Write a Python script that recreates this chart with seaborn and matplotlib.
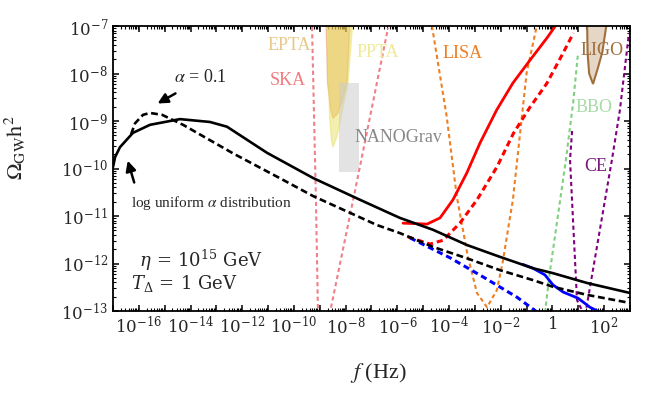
import numpy as np
import matplotlib
matplotlib.use("Agg")
import matplotlib.pyplot as plt
import seaborn as sns

# everything stored as log10 values
# black curves
solid_f = [-17.0, -16.92, -16.73, -16.23, -15.57, -14.41, -13.25, -12.59, -11.04, -9.26,
           -7.44, -5.90, -4.62, -3.31, -2.03, -0.75, 0.0, 1.34, 3.0]
solid_o = [-9.97, -9.76, -9.55, -9.25, -9.08, -8.96, -9.02, -9.12, -9.67, -10.2,
           -10.66, -11.04, -11.29, -11.61, -11.86, -12.1, -12.2, -12.41, -12.62]
dash_f = [-16.3, -16.15, -15.84, -15.57, -15.1, -14.29, -12.36, -10.42, -9.26, -6.79,
          -5.9, -4.62, -3.31, -2.03, -0.75, 0.02, 1.34, 3.0]
dash_o = [-9.28, -9.05, -8.87, -8.83, -8.87, -9.08, -9.68, -10.24, -10.58, -11.19,
          -11.36, -11.65, -11.89, -12.14, -12.35, -12.49, -12.66, -12.83]

# red / blue curves
red_f = [-5.78, -4.85, -4.35, -3.85, -3.31, -2.80, -2.16, -1.53, -0.87, -0.21, 0.1]
red_o = [-11.15, -11.17, -11.04, -10.66, -10.09, -9.46, -8.77, -8.2, -7.72, -7.25, -7.01]
redd_f = [-5.59, -4.74, -4.23, -3.58, -2.92, -2.15, -1.51, -0.87, -0.22, 0.41, 0.81]
redd_o = [-11.44, -11.59, -11.51, -11.15, -10.66, -9.97, -9.26, -8.71, -8.21, -7.57, -7.15]
blued_f = [-5.51, -3.96, -2.69, -1.37, -0.60]
blued_o = [-11.46, -11.88, -12.28, -12.71, -13.02]
blue_f = [-1.14, -0.75, -0.29, 0.02, 0.41, 0.99, 1.45, 1.96]
blue_o = [-12.02, -12.1, -12.24, -12.45, -12.6, -12.73, -12.92, -13.06]

# detector sensitivity curves
ska_f = [-9.30, -9.15, -9.07, -8.85, -8.61, -7.63, -6.36]
ska_o = [-7.02, -10.66, -13.04, -13.8, -13.04, -10.45, -7.04]
lisa_f = [-4.66, -4.09, -3.70, -3.27, -2.92, -2.53, -2.15, -1.91, -1.64, -1.53, -1.0, -0.61]
lisa_o = [-7.0, -8.91, -10.59, -11.86, -12.62, -12.92, -12.56, -11.93, -11.02, -10.66, -7.99, -7.01]
bbo_f = [-0.29, -0.09, 0.52, 0.80, 0.99]
bbo_o = [-13.04, -12.14, -9.82, -8.62, -7.57]
ce_f = [0.76, 0.68, 0.95, 1.14, 1.22, 1.30, 2.30, 2.61, 2.96]
ce_o = [-9.21, -9.82, -12.77, -12.98, -13.2, -12.98, -9.82, -8.77, -7.15]

# filled regions
epta_f = [-8.76, -8.70, -8.58, -8.49, -8.32, -8.15, -7.95, -7.83]
epta_o = [-6.9, -8.2, -8.75, -8.94, -8.85, -8.6, -8.2, -6.9]
ppta_f = [-8.68, -8.66, -8.62, -8.55, -8.49, -8.38, -8.30, -8.1, -7.91, -7.72]
ppta_o = [-6.9, -8.2, -8.9, -9.4, -9.55, -9.4, -9.25, -8.7, -8.2, -6.9]
ligo_f = [1.34, 1.36, 1.42, 1.57, 1.75, 1.93, 2.11]
ligo_o = [-6.9, -7.57, -8.0, -8.22, -7.9, -7.55, -6.9]
nano_f = [-8.27, -7.50]
nano_o = [-10.07, -8.2]

sns.set_style("ticks")
plt.rcParams['font.family'] = ['Liberation Serif', 'DejaVu Serif']
plt.rcParams['mathtext.fontset'] = 'dejavuserif'

fig = plt.figure(figsize=(6.48, 3.96), dpi=100)
ax = fig.add_axes([0.1744, 0.2146, 0.7978, 0.7197])
ax.set_xscale('log')
ax.set_yscale('log')


def p(v):
    return 10 ** np.array(v)


# filled detector regions
ax.fill(p(epta_f), p(epta_o), facecolor='#e8a050', alpha=0.45,
        edgecolor='#e89060', lw=1.0, zorder=1)
ax.fill(p(ppta_f), p(ppta_o), facecolor='#e6dc50', alpha=0.45,
        edgecolor='#e6e060', lw=1.0, zorder=1)
ax.fill_between(p(nano_f), p(nano_o[0]), p(nano_o[1]), color='#cccccc',
                alpha=0.55, lw=0, zorder=1)
ax.fill(p(ligo_f), p(ligo_o), facecolor='#e6d6c6', edgecolor='#a0703c',
        lw=1.5, zorder=1)

det_kw = dict(sort=False, estimator=None, lw=1.5, linestyle=(0, (2.0, 1.5)), ax=ax)
sns.lineplot(x=p(ska_f), y=p(ska_o), color='#f08088', **det_kw)
sns.lineplot(x=p(lisa_f), y=p(lisa_o), color='#ee7f22', **det_kw)
sns.lineplot(x=p(bbo_f), y=p(bbo_o), color='#80d080', **det_kw)
sns.lineplot(x=p(ce_f), y=p(ce_o), color='#800080', **det_kw)

sns.lineplot(x=p(red_f), y=p(red_o), color='red', lw=2, sort=False, estimator=None, ax=ax)
sns.lineplot(x=p(redd_f), y=p(redd_o), color='red', lw=2.2, linestyle=(0, (2.0, 1.3)),
             sort=False, estimator=None, ax=ax)
sns.lineplot(x=p(blued_f), y=p(blued_o), color='blue', lw=2.2, linestyle=(0, (2.0, 1.3)),
             sort=False, estimator=None, ax=ax)
sns.lineplot(x=p(blue_f), y=p(blue_o), color='blue', lw=2, sort=False, estimator=None, ax=ax)

sns.lineplot(x=p(solid_f), y=p(solid_o), color='black', lw=1.9, sort=False,
             estimator=None, ax=ax)
sns.lineplot(x=p(dash_f), y=p(dash_o), color='black', lw=1.9, linestyle=(0, (2.6, 1.4)),
             sort=False, estimator=None, ax=ax)

ax.set_xlim(1e-17, 1e3)
ax.set_ylim(1e-13, 1e-7)

# ticks
xt = [10.0 ** k for k in range(-17, 4)]
ax.set_xticks(xt)
xlabs = []
for k in range(-17, 4):
    if k % 2 == 1:
        xlabs.append('')
    elif k == 0:
        xlabs.append('$1$')
    else:
        xlabs.append('$10^{%d}$' % k)
ax.set_xticklabels(xlabs)
ax.xaxis.set_minor_locator(matplotlib.ticker.LogLocator(base=10, subs=np.arange(2, 10), numticks=100))
ax.xaxis.set_minor_formatter(matplotlib.ticker.NullFormatter())
ax.set_yticks([10.0 ** k for k in range(-13, -6)])
ax.set_yticklabels(['$10^{%d}$' % k for k in range(-13, -6)])
ax.yaxis.set_minor_locator(matplotlib.ticker.LogLocator(base=10, subs=np.arange(2, 10), numticks=100))
ax.yaxis.set_minor_formatter(matplotlib.ticker.NullFormatter())
ax.tick_params(which='both', direction='in', top=True, right=True, labelsize=12, color='black')
ax.tick_params(which='major', length=4, width=1.1)
ax.tick_params(which='minor', length=2, width=0.8)
for s in ax.spines.values():
    s.set_linewidth(1.3)
    s.set_color('black')

ax.set_xlabel(r'$f\ $(Hz)', fontsize=16, math_fontfamily='stix')
ax.xaxis.set_label_coords(0.513, -0.175)
ax.set_ylabel(r'$\Omega_{\rm GW}\mathrm{h}^2$', fontsize=16, math_fontfamily='stix')
ax.yaxis.set_label_coords(-0.165, 0.572)

# detector labels
ax.text(p(-10.19), p(-7.42), 'EPTA', color='#e8c98a', fontsize=13, ha='center', va='center')
ax.text(p(-10.23), p(-8.14), 'SKA', color='#f07a80', fontsize=13, ha='center', va='center')
ax.text(p(-6.75), p(-7.55), 'PPTA', color='#eeea98', fontsize=13, ha='center', va='center')
ax.text(p(-5.97), p(-9.34), 'NANOGrav', color='#888888', fontsize=13, ha='center', va='center')
ax.text(p(-3.46), p(-7.57), 'LISA', color='#ee7f22', fontsize=13, ha='center', va='center')
ax.text(p(1.92), p(-7.51), 'LIGO', color='#a0703c', fontsize=13, ha='center', va='center')
ax.text(p(1.61), p(-8.71), 'BBO', color='#a6dca6', fontsize=13, ha='center', va='center')
ax.text(p(1.68), p(-9.95), 'CE', color='#7a1a7a', fontsize=13, ha='center', va='center')

# annotations
ax.annotate('', xy=(p(-15.37), p(-8.66)), xytext=(p(-14.49), p(-8.39)),
            arrowprops=dict(arrowstyle='-|>', color='black', lw=1.8, mutation_scale=15))
ax.annotate('', xy=(p(-16.46), p(-9.78)), xytext=(p(-16.15), p(-10.35)),
            arrowprops=dict(arrowstyle='-|>', color='black', lw=1.8, mutation_scale=15))
ax.text(p(-13.63), p(-8.09), r'$\alpha$ = 0.1', fontsize=13, ha='center', va='center',
        math_fontfamily='stix')
ax.text(p(-13.21), p(-10.73), r'log uniform $\alpha$ distribution', fontsize=11,
        ha='center', va='center', math_fontfamily='stix')
ax.text(p(-16.0), p(-11.93), r'$\eta\,=\,10^{15}\ \mathrm{GeV}$', fontsize=13,
        ha='left', va='center')
ax.text(p(-16.3), p(-12.43), r'$T_\Delta\,=\,1\ \mathrm{GeV}$', fontsize=13,
        ha='left', va='center')

fig.savefig('out.png', dpi=100)
